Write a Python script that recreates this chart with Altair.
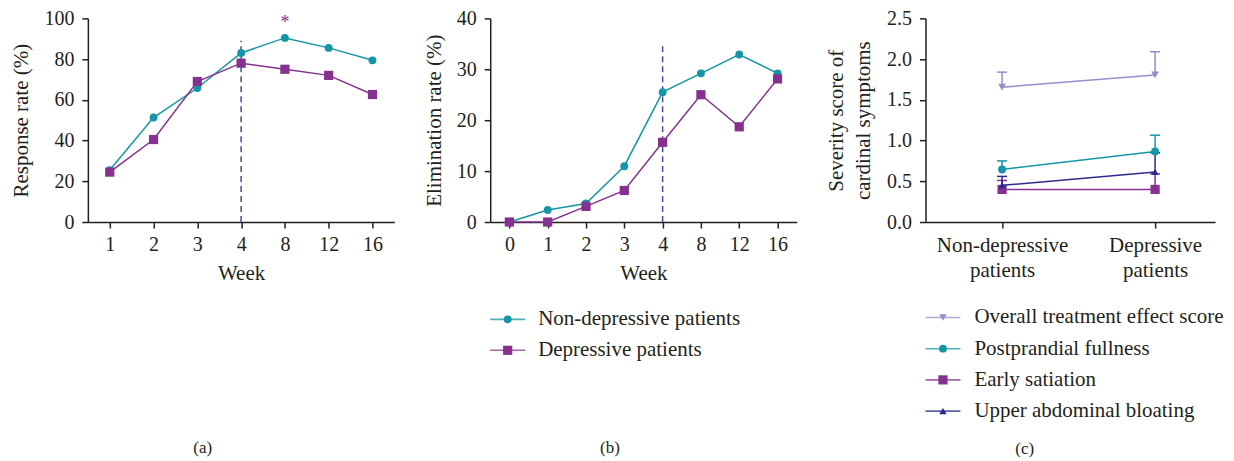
import altair as alt
import pandas as pd

TEAL = "#1496a6"
PURPLE = "#86318f"
LAV = "#9090cc"
NAVY = "#2b2b8f"
DASH = "#4848aa"
INK = "#231f20"
SERIF = "Liberation Serif"

S_ND = "Non-depressive patients"
S_D = "Depressive patients"

# ---- panel (a) data ----
weeks_a = ["1", "2", "3", "4", "8", "12", "16"]
resp_nondep = [25.5, 51.3, 65.8, 83.0, 90.4, 85.5, 79.4]
resp_dep = [24.5, 40.5, 69.0, 78.0, 75.0, 72.0, 62.6]

# ---- panel (b) data ----
weeks_b = ["0", "1", "2", "3", "4", "8", "12", "16"]
elim_nondep = [0.0, 2.35, 3.65, 10.96, 25.5, 29.2, 32.9, 29.2]
elim_dep = [0.0, 0.0, 3.07, 6.2, 15.65, 25.0, 18.7, 28.1]

# ---- panel (c) data ----
groups_c = ["Non-depressive patients", "Depressive patients"]
series_c = ["Overall treatment effect score", "Postprandial fullness",
            "Early satiation", "Upper abdominal bloating"]
overall_mean = [1.655, 1.806]
overall_hi = [1.84, 2.09]
fullness_mean = [0.645, 0.866]
fullness_hi = [0.75, 1.066]
satiation_mean = [0.40, 0.40]
satiation_hi = [0.51, 0.59]
bloating_mean = [0.45, 0.615]
bloating_hi = [0.56, 0.85]


def caption(text, offset):
    return alt.Title(text, orient="bottom", anchor="middle", frame="bounds",
                     font="Liberation Sans Narrow", fontSize=17, fontWeight="normal",
                     color=INK, offset=offset)


def legend_chart(names, colors, shapes, sizes, width, height, text_x):
    """Legend drawn as a small chart: one row per series (line + marker + label)."""
    df = pd.DataFrame({"series": names, "shape": shapes, "size": sizes})
    y = alt.Y("series:N", sort=names, scale=alt.Scale(type="point", padding=0.5), axis=None)
    col = alt.Color("series:N", scale=alt.Scale(domain=names, range=colors), legend=None)
    base = alt.Chart(df)
    line = base.mark_rule(strokeWidth=1.6, opacity=0.75).encode(
        x=alt.value(0), x2=alt.value(35), y=y, color=col)
    sym = base.mark_point(filled=True, opacity=1).encode(
        x=alt.value(17.5), y=y, color=col,
        shape=alt.Shape("shape:N", scale=None),
        size=alt.Size("size:Q", scale=None))
    txt = base.mark_text(align="left", baseline="middle", font=SERIF, fontSize=21,
                         color=INK).encode(x=alt.value(text_x), y=y, text="series:N")
    return alt.layer(line, sym, txt).properties(width=width, height=height)


def week_panel(weeks, nd, d, ytitle, ydom, yvals, rule_top, star=None):
    df = pd.DataFrame({"week": weeks * 2, "value": nd + d,
                       "series": [S_ND] * len(weeks) + [S_D] * len(weeks)})
    x = alt.X("week:O", sort=weeks, scale=alt.Scale(type="point", padding=0.5),
              axis=alt.Axis(title="Week", labelAngle=0))
    y = alt.Y("value:Q", scale=alt.Scale(domain=ydom, nice=False),
              axis=alt.Axis(title=ytitle, values=yvals))
    cscale = alt.Scale(domain=[S_ND, S_D], range=[TEAL, PURPLE])
    base = alt.Chart(df)
    lines = base.mark_line(strokeWidth=1.5).encode(
        x=x, y=y, color=alt.Color("series:N", scale=cscale, legend=None))
    pts_nd = base.transform_filter(alt.datum.series == S_ND).mark_point(
        shape="circle", filled=True, size=62, opacity=1).encode(
        x=x, y=y, color=alt.Color("series:N", scale=cscale, legend=None))
    pts_d = base.transform_filter(alt.datum.series == S_D).mark_point(
        shape="square", filled=True, size=85, opacity=1).encode(
        x=x, y=y, color=alt.Color("series:N", scale=cscale, legend=None))
    rule_df = pd.DataFrame({"week": ["4"], "value": [0.0], "top": [rule_top]})
    rule = alt.Chart(rule_df).mark_rule(color=DASH, strokeDash=[6, 4], strokeWidth=1.5).encode(
        x=x, y=y, y2="top:Q")
    layers = [rule, lines, pts_nd, pts_d]
    if star is not None:
        star_df = pd.DataFrame({"week": [star[0]], "value": [star[1]]})
        layers.append(alt.Chart(star_df).mark_text(
            text="*", color=PURPLE, fontSize=18, font=SERIF, baseline="middle").encode(x=x, y=y))
    return alt.layer(*layers).properties(width=307, height=204)


panel_a = week_panel(weeks_a, resp_nondep, resp_dep, "Response rate (%)", [0, 100],
                     [0, 20, 40, 60, 80, 100], 89, star=("8", 97.5)).properties(
    title=caption("(a)", 156))
plot_b = week_panel(weeks_b, elim_nondep, elim_dep, "Elimination rate (%)", [0, 40],
                    [0, 10, 20, 30, 40], 35)
legend_b = legend_chart([S_ND, S_D], [TEAL, PURPLE], ["circle", "square"], [62, 85],
                        307, 62, 48)
col_b = alt.vconcat(plot_b, legend_b, spacing=20).properties(title=caption("(b)", 74))

# ---- panel (c) ----
means = [overall_mean, fullness_mean, satiation_mean, bloating_mean]
his = [overall_hi, fullness_hi, satiation_hi, bloating_hi]
rows = []
for s, m, h in zip(series_c, means, his):
    for g, mv, hv in zip(groups_c, m, h):
        rows.append({"group": g, "series": s, "value": mv, "hi": hv})
df_c = pd.DataFrame(rows)
colors_c = [LAV, TEAL, PURPLE, NAVY]
shapes_c = ["triangle-down", "circle", "square", "triangle-up"]
sizes_c = [60, 62, 85, 50]
xc = alt.X("group:N", sort=groups_c, scale=alt.Scale(type="point", padding=0.446, align=0.561),
           axis=alt.Axis(title=None, labelAngle=0, labelExpr="split(datum.label, ' ')",
                         labelLineHeight=25, labelFontSize=21))
yc = alt.Y("value:Q", scale=alt.Scale(domain=[0, 2.5], nice=False),
           axis=alt.Axis(title=["Severity score of", "cardinal symptoms"], titleLineHeight=27,
                         titlePadding=13, values=[0, 0.5, 1.0, 1.5, 2.0, 2.5], format=".1f"))
ccol = alt.Color("series:N", scale=alt.Scale(domain=series_c, range=colors_c), legend=None)
base_c = alt.Chart(df_c)
layers_c = []
for s in series_c:
    b = base_c.transform_filter(alt.datum.series == s)
    layers_c.append(b.mark_rule(strokeWidth=1.5).encode(x=xc, y=yc, y2="hi:Q", color=ccol))
    layers_c.append(b.mark_tick(size=10, thickness=1.5, opacity=1).encode(
        x=xc, y=alt.Y("hi:Q"), color=ccol))
for s, shp, sz in zip(series_c, shapes_c, sizes_c):
    b = base_c.transform_filter(alt.datum.series == s)
    layers_c.append(b.mark_line(strokeWidth=1.5).encode(x=xc, y=yc, color=ccol))
    layers_c.append(b.mark_point(shape=shp, filled=True, size=sz, opacity=1).encode(
        x=xc, y=yc, color=ccol))
plot_c = alt.layer(*layers_c).properties(width=290, height=204)
legend_c = legend_chart(series_c, colors_c, shapes_c, [58, 62, 85, 55], 290, 125, 49)
col_c = alt.vconcat(plot_c, legend_c, spacing=21).properties(title=caption("(c)", 14))

chart = alt.hconcat(panel_a, col_b, col_c, spacing=29).resolve_scale(
    color="independent", shape="independent", size="independent"
).properties(
    padding={"left": 3, "top": 0, "right": 2, "bottom": 0}
).configure_view(stroke=None).configure_axis(
    grid=False, domainColor=INK, tickColor=INK, domainWidth=1.5, tickWidth=1.5, tickSize=6,
    labelFont=SERIF, labelFontSize=20, labelColor=INK, labelPadding=8,
    titleFont=SERIF, titleFontSize=21, titleColor=INK, titleFontWeight="normal", titlePadding=12
).configure_axisX(labelPadding=7, titlePadding=8)

chart.save("out.html", embed_options={"renderer": "svg", "actions": False})
